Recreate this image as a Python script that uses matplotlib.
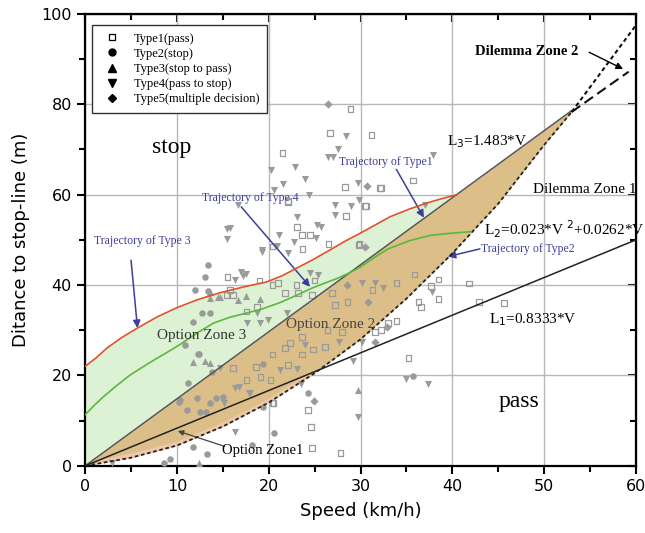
import numpy as np
import matplotlib
matplotlib.use("Agg")
import matplotlib.pyplot as plt
from matplotlib.lines import Line2D

# ---- data ----
# boundary lines
l3_v = [0, 53]
l3_d = [0, 78.6]
l1_v = [0, 60]
l1_d = [0, 50]
l2_v = [0, 5, 10, 15, 20, 25, 30, 35, 40, 45, 50, 53]
l2_d = [0, 1.8, 4.5, 8.7, 14.0, 20.5, 28.0, 37.0, 47.0, 58.0, 71.0, 78.3]
l2_ext_v = [53, 60]
l2_ext_d = [78.3, 97.5]
l3_ext_v = [53, 59.2]
l3_ext_d = [78.3, 87.2]

# trajectories
red_v = [0, 1.2, 2.4, 4.0, 5.7, 7.8, 10.0, 12.3, 14.7, 17.3, 19.8, 21.5, 23.1, 24.8,
         26.7, 28.4, 30.0, 31.6, 33.2, 35.3, 37.3, 39.0, 40.5]
red_d = [22, 23.9, 26.1, 28.4, 30.5, 32.9, 35.0, 36.8, 38.3, 39.6, 40.7, 42.1, 43.8, 45.6,
         47.8, 49.8, 51.5, 53.3, 55.1, 56.8, 58.2, 59.2, 60.0]
green_v = [0, 1.0, 2.0, 3.4, 4.9, 7.0, 9.0, 10.3, 12.2, 14.0, 15.8, 17.6, 19.4, 21.2,
           23.0, 24.8, 26.2, 27.5, 28.8, 30.0, 31.5, 33.0, 35.3, 37.6, 40.0, 42.0]
green_d = [11.3, 13.4, 15.3, 17.7, 20.1, 22.8, 25.2, 26.8, 29.4, 31.6, 32.9, 33.8, 34.8,
           36.1, 37.7, 39.4, 40.5, 41.5, 42.7, 44.0, 46.1, 48.0, 49.8, 51.0, 51.5, 51.8]

# observations: (speed, distance)
type1 = [(28.9, 79.0), (26.7, 73.7), (31.2, 73.2), (21.5, 69.2), (28.3, 61.7), (22.1, 58.6),
         (30.5, 57.5), (28.4, 55.3), (23.1, 52.9), (23.6, 51.1), (24.5, 51.1), (23.7, 48.0),
         (26.5, 49.1), (29.9, 49.1), (35.7, 63.1), (32.2, 61.5), (41.8, 40.3), (42.9, 36.3),
         (33.9, 40.5), (36.3, 36.3), (36.6, 35.2), (38.5, 36.9), (37.7, 39.8), (33.9, 32.1),
         (33.0, 31.6), (32.2, 30.1), (35.2, 23.9), (24.3, 12.4), (24.6, 8.6), (24.7, 4.0),
         (27.8, 2.9), (31.6, 29.6), (20.5, 13.9), (22.1, 58.4), (15.5, 41.8), (20.4, 48.5),
         (16.1, 21.7), (17.6, 19.0), (18.6, 21.9), (19.1, 19.7), (15.4, 37.8), (16.1, 37.8),
         (20.4, 40.0), (21.8, 38.3), (23.2, 38.3), (24.7, 37.8), (26.9, 38.3), (27.2, 35.6),
         (28.6, 36.3), (31.3, 38.9), (26.4, 30.1), (28.0, 29.6), (23.6, 28.5), (22.3, 27.2),
         (21.8, 26.1), (24.8, 25.7), (23.6, 24.6), (26.1, 26.3), (20.4, 24.6), (22.1, 22.3),
         (20.2, 19.0), (20.4, 13.9), (15.8, 38.9), (17.6, 34.1), (18.7, 35.2), (30.6, 57.5),
         (29.8, 48.9), (32.1, 61.5), (45.6, 36.0), (35.9, 42.3), (38.5, 41.2), (19.0, 41.0),
         (21.0, 40.5), (23.0, 40.0), (25.0, 41.0)]
type2 = [(13.4, 44.5), (13.1, 41.8), (12.0, 38.9), (13.4, 38.7), (13.6, 33.8), (12.7, 33.8),
         (11.7, 31.9), (10.9, 26.8), (12.3, 24.8), (11.2, 18.4), (12.2, 15.0), (10.3, 14.6),
         (11.1, 12.4), (12.5, 11.9), (13.2, 11.9), (13.6, 13.9), (14.3, 15.0), (15.0, 15.2),
         (12.4, 24.8), (19.4, 22.6), (19.4, 13.1), (20.6, 7.3), (18.2, 4.6), (11.8, 4.2),
         (13.3, 2.7), (9.2, 1.5), (8.6, 0.7), (24.3, 16.2), (35.7, 19.9), (13.8, 20.8),
         (10.2, 14.2)]
type3 = [(11.7, 23.0), (13.6, 22.8), (13.1, 23.2), (12.4, 0.7), (29.7, 16.8), (13.6, 38.4),
         (14.5, 37.4), (13.6, 37.2), (14.7, 37.4), (16.6, 36.7), (17.5, 37.5), (19.0, 37.0)]
type4 = [(37.9, 68.8), (37.0, 57.7), (34.9, 19.2), (37.3, 18.1), (37.8, 38.5), (32.4, 39.4),
         (29.7, 10.8), (29.2, 23.2), (23.5, 18.1), (16.3, 7.5), (17.8, 16.2), (15.1, 13.9),
         (16.3, 17.3), (2.9, 0.7), (16.8, 17.5), (18.0, 16.2), (15.4, 52.4), (15.4, 50.2),
         (17.2, 42.0), (16.3, 41.2), (19.3, 47.3), (21.1, 51.1), (20.9, 48.7), (22.1, 47.1),
         (23.1, 55.1), (25.3, 53.3), (25.7, 52.9), (25.1, 50.4), (22.7, 49.6), (16.6, 57.7),
         (15.8, 52.7), (19.3, 47.8), (17.0, 42.9), (17.5, 42.5), (28.4, 73.0), (27.5, 70.1),
         (26.4, 68.4), (27.0, 68.4), (22.9, 66.2), (24.0, 63.5), (21.6, 62.4), (24.4, 60.0),
         (29.7, 62.6), (29.8, 58.8), (27.2, 57.7), (29.0, 57.5), (27.2, 55.5), (20.6, 61.1),
         (20.2, 65.5), (24.5, 42.7), (25.4, 42.3), (19.9, 32.3), (22.0, 33.8), (24.0, 26.8),
         (21.2, 21.2), (23.1, 21.5), (27.6, 27.4), (30.2, 27.4), (30.2, 40.5), (31.6, 40.5),
         (18.7, 33.8), (17.6, 31.6), (19.1, 31.6), (14.7, 21.7)]
type5 = [(26.4, 80.1), (30.7, 61.9), (30.5, 48.5), (24.9, 14.4), (31.6, 27.4), (30.8, 36.3),
         (28.5, 40.0), (32.9, 30.8)]

legend_labels = ["Type1(pass)", "Type2(stop)", "Type3(stop to pass)",
                 "Type4(pass to stop)", "Type5(multiple decision)"]

serif = "Liberation Serif"
navy = "#3c3f9a"
gray_pt = "#9a9a9a"

fig = plt.figure(figsize=(6.45, 5.33), dpi=100)
ax = fig.add_axes([0.132, 0.126, 0.854, 0.848])

# zones
vv = np.linspace(0, 53, 200)
l2_i = np.interp(vv, l2_v, l2_d)
l3_i = np.interp(vv, l3_v, l3_d)
l1_i = np.interp(vv, l1_v, l1_d)
rv = np.linspace(0, 40.5, 200)
ax.fill_between(rv, np.interp(rv, l3_v, l3_d), np.interp(rv, red_v, red_d),
                color="#ddf1d4", zorder=1, lw=0)
ax.fill_between(vv, l2_i, l3_i, color="#dcbf88", zorder=1, lw=0)
m = vv < 25.7
ax.fill_between(vv[m], l2_i[m], np.minimum(l2_i[m] + 1.0, l1_i[m]),
                color="#eec7aa", zorder=1.1, lw=0)

ax.grid(True, color="#b8b8b8", lw=1.0, zorder=0.5)
ax.set_axisbelow(True)

# scatter
def pts(a):
    a = np.array(a)
    return a[:, 0], a[:, 1]

x, y = pts(type1)
ax.scatter(x, y, marker="s", s=16, facecolors="none", edgecolors=gray_pt, lw=0.9, zorder=3)
x, y = pts(type2)
ax.scatter(x, y, marker="o", s=22, color=gray_pt, lw=0, zorder=3)
x, y = pts(type3)
ax.scatter(x, y, marker="^", s=26, color=gray_pt, lw=0, zorder=3)
x, y = pts(type4)
ax.scatter(x, y, marker="v", s=26, color=gray_pt, lw=0, zorder=3)
x, y = pts(type5)
ax.scatter(x, y, marker="D", s=18, color=gray_pt, lw=0, zorder=3)

# lines
ax.plot(l3_v, l3_d, color="#555555", lw=1.1, zorder=4)
ax.plot(l1_v, l1_d, color="#222222", lw=1.1, zorder=4)
ax.plot(l2_v, l2_d, color="#222222", lw=1.3, ls=(0, (2, 1.5)), zorder=4)
ax.plot(l2_ext_v, l2_ext_d, color="#111111", lw=1.5, ls=(0, (2, 1.5)), zorder=4)
ax.plot(l3_ext_v, l3_ext_d, color="#111111", lw=1.5, ls=(0, (5, 2.5)), zorder=4)
ax.plot(red_v, red_d, color="#e0522c", lw=1.2, zorder=4)
ax.plot(green_v, green_d, color="#5cb83c", lw=1.2, zorder=4)

# text labels
ax.text(9.4, 70.4, "stop", fontsize=17, family=serif, ha="center", va="center")
ax.text(47.3, 14.2, "pass", fontsize=17, family=serif, ha="center", va="center")
ax.text(12.7, 28.8, "Option Zone 3", fontsize=11, family=serif, color="#333333",
        ha="center", va="center", zorder=5)
ax.text(26.7, 31.2, "Option Zone 2", fontsize=11, family=serif, color="#444444",
        ha="center", va="center", zorder=5)
ax.text(19.3, 3.5, "Option Zone1", fontsize=10.5, family=serif, ha="center",
        va="center", zorder=5)
ax.annotate("", xy=(10.1, 7.7), xytext=(15.2, 4.3),
            arrowprops=dict(arrowstyle="-|>", color="#444444", lw=0.9, mutation_scale=8,
                            shrinkA=0, shrinkB=0))
ax.text(48.1, 91.6, "Dilemma Zone 2", fontsize=10.5, family=serif, fontweight="bold",
        ha="center", va="center")
ax.annotate("", xy=(58.6, 87.8), xytext=(54.9, 91.5),
            arrowprops=dict(arrowstyle="-|>", color="black", lw=1.0, mutation_scale=10,
                            shrinkA=0, shrinkB=0))
ax.text(48.8, 61.1, "Dilemma Zone 1", fontsize=11, family=serif, ha="left", va="center")
ax.text(39.4, 71.7, "L$_3$=1.483*V", fontsize=11, family=serif, ha="left", va="center")
ax.text(43.5, 52.4, "L$_2$=0.023*V $^2$+0.0262*V", fontsize=11, family=serif,
        ha="left", va="center")
ax.text(44.0, 32.3, "L$_1$=0.8333*V", fontsize=11, family=serif, ha="left", va="center")

arrow = dict(arrowstyle="-|>", color=navy, lw=1.1, mutation_scale=11, shrinkA=0, shrinkB=0)
ax.text(1.0, 49.8, "Trajectory of Type 3", fontsize=8.5, family=serif, color=navy,
        ha="left", va="center")
ax.annotate("", xy=(5.7, 30.5), xytext=(5.0, 45.5), arrowprops=arrow)
ax.text(18.0, 59.3, "Trajectory of Type 4", fontsize=8.5, family=serif, color=navy,
        ha="center", va="center", zorder=5)
ax.annotate("", xy=(24.5, 39.6), xytext=(17.0, 57.3), arrowprops=arrow)
ax.text(32.7, 67.3, "Trajectory of Type1", fontsize=8.5, family=serif, color=navy,
        ha="center", va="center", zorder=5)
ax.annotate("", xy=(36.9, 54.9), xytext=(33.9, 65.6), arrowprops=arrow)
ax.text(43.1, 48.0, "Trajectory of Type2", fontsize=8.5, family=serif, color=navy,
        ha="left", va="center")
ax.annotate("", xy=(39.5, 46.3), xytext=(43.0, 48.0), arrowprops=arrow)

# legend
handles = [Line2D([], [], ls="none", marker="s", mfc="none", mec="black", ms=4.5, mew=0.9),
           Line2D([], [], ls="none", marker="o", color="black", ms=5),
           Line2D([], [], ls="none", marker="^", color="black", ms=5.5),
           Line2D([], [], ls="none", marker="v", color="black", ms=5.5),
           Line2D([], [], ls="none", marker="D", color="black", ms=4.5)]
leg = ax.legend(handles, legend_labels, loc="upper left", bbox_to_anchor=(0.012, 0.975),
                prop={"family": serif, "size": 9}, frameon=True, fancybox=False,
                edgecolor="#333333", framealpha=1, borderpad=0.6, labelspacing=0.25,
                handletextpad=0.8, borderaxespad=0)
leg.get_frame().set_linewidth(1.0)
leg.set_zorder(6)

# axes
ax.set_xlim(0, 60)
ax.set_ylim(0, 100)
ax.set_xticks(range(0, 61, 10))
ax.set_yticks(range(0, 101, 20))
ax.set_xticks(range(5, 60, 10), minor=True)
ax.set_yticks(range(10, 100, 20), minor=True)
ax.tick_params(which="both", direction="out", width=1.5, labelsize=11.5)
ax.tick_params(which="major", length=6)
ax.tick_params(which="minor", length=4)
for s in ax.spines.values():
    s.set_linewidth(1.6)
for lab in ax.get_xticklabels() + ax.get_yticklabels():
    lab.set_family("DejaVu Sans")

top = ax.secondary_xaxis("top")
top.set_xticks(range(0, 61, 10))
top.set_xticks(range(5, 60, 10), minor=True)
top.tick_params(which="both", direction="in", width=1.5, labeltop=False)
top.tick_params(which="major", length=6)
top.tick_params(which="minor", length=4)
right = ax.secondary_yaxis("right")
right.set_yticks(range(0, 101, 20))
right.set_yticks(range(10, 100, 20), minor=True)
right.tick_params(which="both", direction="in", width=1.5, labelright=False)
right.tick_params(which="major", length=6)
right.tick_params(which="minor", length=4)

ax.set_xlabel("Speed (km/h)", fontsize=13, labelpad=6)
ax.set_ylabel("Ditance to stop-line (m)", fontsize=13, labelpad=8)

fig.savefig("out.png", dpi=100)
